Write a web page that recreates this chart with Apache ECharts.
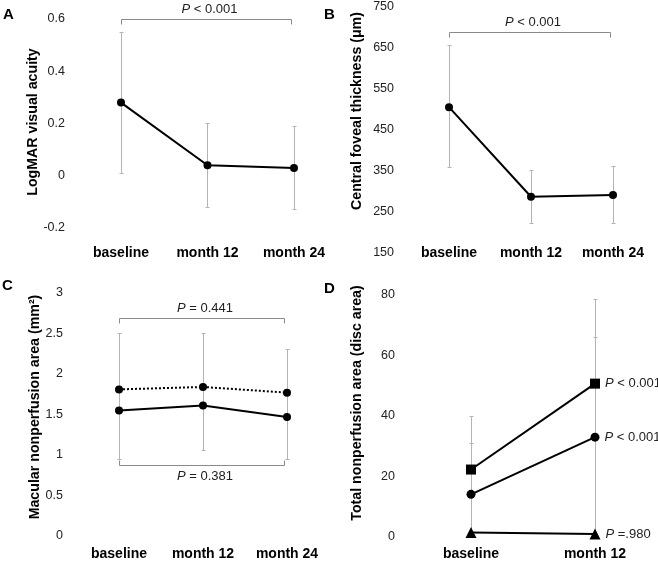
<!DOCTYPE html>
<html><head><meta charset="utf-8">
<script src="https://cdn.jsdelivr.net/npm/echarts@6/dist/echarts.min.js"></script>
<style>html,body{margin:0;padding:0;background:#fff}#c{width:658px;height:561px}</style>
</head><body><div id="c"></div>
<script>
// ---- data ----
const categoriesABC = ['baseline', 'month 12', 'month 24'];
const categoriesD = ['baseline', 'month 12'];

const meanA = [0.28, 0.04, 0.03];
const highA = [0.55, 0.20, 0.19];
const lowA  = [0.01, -0.12, -0.13];

const meanB = [505, 287, 291];
const highB = [654, 352, 360];
const lowB  = [358, 222, 223];

const solidC  = [1.55, 1.61, 1.47];
const dottedC = [1.81, 1.84, 1.77];
const highC   = [2.5, 2.5, 2.3];
const lowC    = [0.95, 1.05, 0.95];

const squareD   = [22.3, 50.7];
const circleD   = [14.1, 33.0];
const triangleD = [1.5, 1.0];
const squareHighD = [39.8, 78.6];
const circleHighD = [30.8, 65.8];
const lowD = [0, 0];
const pLabelsD = ['< 0.001', '< 0.001', '=.980'];

const axisA = {min: -0.2, max: 0.6, interval: 0.2};
const axisB = {min: 150, max: 750, interval: 100};
const axisC = {min: 0, max: 3, interval: 0.5};
const axisD = {min: 0, max: 80, interval: 20};

// brackets: [fromIndex, toIndex, value, direction(1: ends down, -1: ends up)], text
const bracketsA = [[0, 2, 0.6, 1]];   const bracketTextA = ['< 0.001'];
const bracketsB = [[0, 2, 687, 1]];   const bracketTextB = ['< 0.001'];
const bracketsC = [[0, 2, 2.68, 1], [0, 2, 0.87, -1]]; const bracketTextC = ['= 0.441', '= 0.381'];

const titles = ['LogMAR visual acuity', 'Central foveal thickness (\u03bcm)',
  'Macular nonperfusion area (mm\u00b2)', 'Total nonperfusion area (disc area)'];
const letters = ['A', 'B', 'C', 'D'];

// ---- style ----
const FONT = '"Liberation Sans", Arial, Helvetica, sans-serif';
const ERR = '#b4b4b4';
const BR = '#8a8a8a';
const TXT = '#222';

const chart = echarts.init(document.getElementById('c'), null, {renderer: 'canvas'});

function r5(v) { return Math.round(v - 0.5) + 0.5; }

function errSeries(ax, lows, highs) {
  return {
    type: 'custom', xAxisIndex: ax, yAxisIndex: ax, z: 1, silent: true, clip: false,
    encode: {x: 0, y: [1, 2]},
    data: lows.map((l, i) => [i, l, highs[i]]),
    renderItem: (params, api) => {
      const t = api.coord([api.value(0), api.value(2)]);
      const b = api.coord([api.value(0), api.value(1)]);
      const x = r5(t[0]), c = 2;
      return {type: 'group', children: [
        {type: 'line', shape: {x1: x, y1: t[1], x2: x, y2: b[1]}, style: {stroke: ERR, lineWidth: 1}},
        {type: 'line', shape: {x1: x - c, y1: r5(t[1]), x2: x + c, y2: r5(t[1])}, style: {stroke: ERR, lineWidth: 1}},
        {type: 'line', shape: {x1: x - c, y1: r5(b[1]), x2: x + c, y2: r5(b[1])}, style: {stroke: ERR, lineWidth: 1}}
      ]};
    }
  };
}

function bracketSeries(ax, items, texts) {
  return {
    type: 'custom', xAxisIndex: ax, yAxisIndex: ax, z: 3, silent: true, clip: false,
    encode: {x: 0, y: 2},
    data: items,
    renderItem: (params, api) => {
      const p0 = api.coord([api.value(0), api.value(2)]);
      const p1 = api.coord([api.value(1), api.value(2)]);
      const dir = api.value(3);
      const y = r5(p0[1]);
      const x0 = r5(p0[0]), x1 = r5(p1[0] - 3);
      const d = 5 * dir;
      return {type: 'group', children: [
        {type: 'polyline', shape: {points: [[x0, y + d], [x0, y], [x1, y], [x1, y + d]]},
          style: {stroke: BR, lineWidth: 1, fill: null}},
        {type: 'text', x: (x0 + x1) / 2 + 3, y: y - dir * 4,
          style: {text: '{i|P} ' + texts[params.dataIndex], align: 'center',
            verticalAlign: dir > 0 ? 'bottom' : 'top', fill: TXT, fontSize: 13, fontFamily: FONT,
            rich: {i: {fontStyle: 'italic', fontSize: 13, fontFamily: FONT, fill: TXT}}}}
      ]};
    }
  };
}

function lineSeries(ax, data, opts) {
  return Object.assign({
    type: 'line', xAxisIndex: ax, yAxisIndex: ax, z: 5, data: data,
    symbol: 'circle', symbolSize: 8, showSymbol: true,
    itemStyle: {color: '#000'}, lineStyle: {color: '#000', width: 2},
    emphasis: {disabled: true}, animation: false
  }, opts || {});
}

const grids = [
  {left: 121, top: 19, width: 173, height: 209},
  {left: 449, top: 4, width: 164, height: 249},
  {left: 119, top: 293, width: 168, height: 245},
  {left: 471, top: 295, width: 124, height: 243}
];
const xMargins = [18, -7, 11, 10];
const yMargins = [56, 55, 56, 76];
const yAxes = [axisA, axisB, axisC, axisD];

const xAxis = grids.map((g, i) => ({
  type: 'category', gridIndex: i, boundaryGap: false,
  data: i === 3 ? categoriesD : categoriesABC,
  axisLine: {show: false}, axisTick: {show: false}, splitLine: {show: false},
  axisLabel: {margin: xMargins[i], color: '#000', fontWeight: 'bold', fontSize: 14, fontFamily: FONT,
    interval: 0, showMinLabel: true, showMaxLabel: true}
}));
const yAxis = grids.map((g, i) => Object.assign({
  type: 'value', gridIndex: i,
  axisLine: {show: false}, axisTick: {show: false}, splitLine: {show: false},
  axisLabel: {margin: yMargins[i], color: TXT, fontSize: 12.5, fontFamily: FONT}
}, yAxes[i]));

const dLabel = (t) => ({show: true, position: 'right', distance: 5, color: TXT, fontSize: 13, fontFamily: FONT,
  formatter: '{i|P} ' + t, rich: {i: {fontStyle: 'italic', fontSize: 13, fontFamily: FONT, color: TXT}}});
const withLastLabel = (arr, t) => arr.map((v, i) => i === arr.length - 1 ? {value: v, label: dLabel(t)} : v);

const series = [
  errSeries(0, lowA, highA),
  lineSeries(0, meanA),
  bracketSeries(0, bracketsA, bracketTextA),

  errSeries(1, lowB, highB),
  lineSeries(1, meanB),
  bracketSeries(1, bracketsB, bracketTextB),

  errSeries(2, lowC, highC),
  lineSeries(2, dottedC, {lineStyle: {color: '#000', width: 2, type: [2, 2]}}),
  lineSeries(2, solidC),
  bracketSeries(2, bracketsC, bracketTextC),

  errSeries(3, lowD, squareHighD),
  errSeries(3, lowD, circleHighD),
  lineSeries(3, withLastLabel(squareD, pLabelsD[0]), {symbol: 'rect', symbolSize: 10}),
  lineSeries(3, withLastLabel(circleD, pLabelsD[1]), {symbolSize: 9}),
  lineSeries(3, withLastLabel(triangleD, pLabelsD[2]), {symbol: 'triangle', symbolSize: 11})
];

const titlePos = [[33, 122], [357, 111], [35, 407], [357, 403]];
const letterPos = [[3, 15], [324, 15], [2, 286], [324, 289]];
const graphic = [];
titles.forEach((t, i) => graphic.push({
  type: 'text', x: titlePos[i][0], y: titlePos[i][1], rotation: Math.PI / 2, silent: true,
  style: {text: t, align: 'center', verticalAlign: 'middle', fill: '#000', fontWeight: 'bold', fontSize: 14.2, fontFamily: FONT}
}));
letters.forEach((t, i) => graphic.push({
  type: 'text', x: letterPos[i][0], y: letterPos[i][1], silent: true,
  style: {text: t, align: 'left', verticalAlign: 'middle', fill: '#000', fontWeight: 'bold', fontSize: 15, fontFamily: FONT}
}));

chart.setOption({
  animation: false,
  backgroundColor: '#fff',
  grid: grids,
  xAxis: xAxis,
  yAxis: yAxis,
  series: series,
  graphic: graphic
});
</script></body></html>
